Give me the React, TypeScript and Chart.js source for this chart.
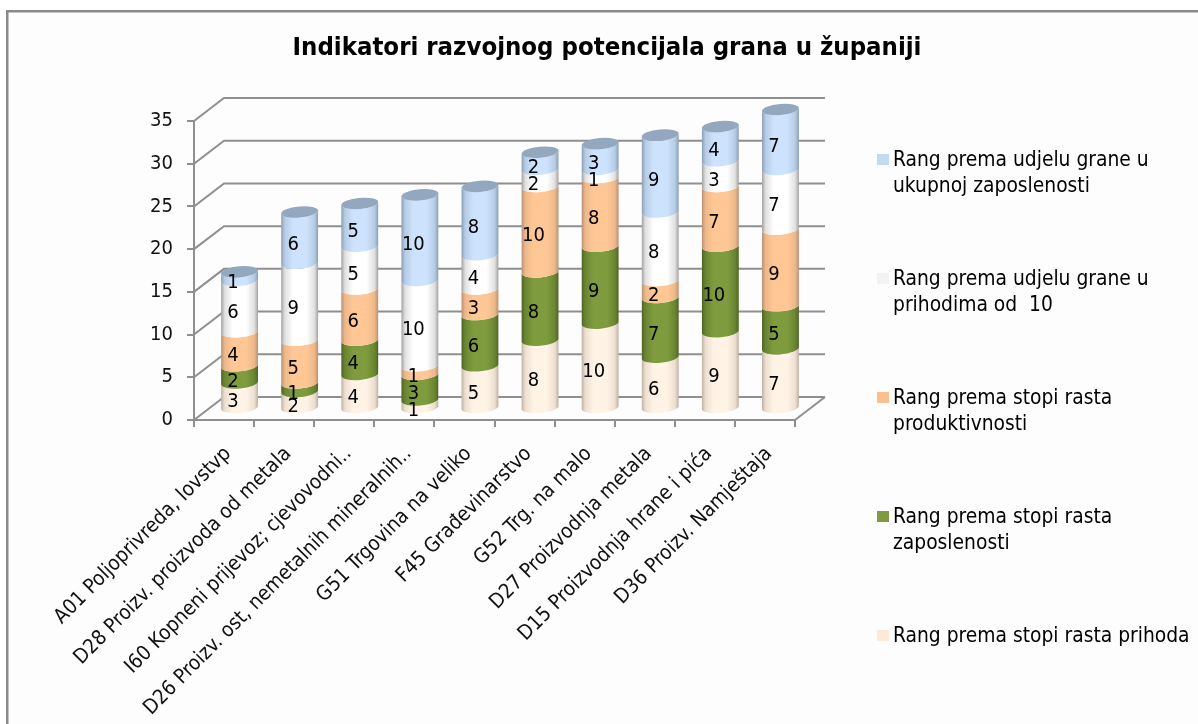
import React, { useEffect, useRef } from "react";
import { Chart, registerables } from "chart.js";

Chart.register(...registerables);

const categories = [
  "A01 Poljoprivreda, lovstvp",
  "D28 Proizv. proizvoda od metala",
  "I60 Kopneni prijevoz; cjevovodni..",
  "D26 Proizv. ost, nemetalnih mineralnih..",
  "G51 Trgovina na veliko",
  "F45 Građevinarstvo",
  "G52 Trg. na malo",
  "D27 Proizvodnja metala",
  "D15 Proizvodnja hrane i pića",
  "D36 Proizv. Namještaja",
];
const rastPrihoda = [3, 2, 4, 1, 5, 8, 10, 6, 9, 7];
const rastZaposlenosti = [2, 1, 4, 3, 6, 8, 9, 7, 10, 5];
const rastProduktivnosti = [4, 5, 6, 1, 3, 10, 8, 2, 7, 9];
const udjelPrihodi = [6, 9, 5, 10, 4, 2, 1, 8, 3, 7];
const udjelZaposlenost = [1, 6, 5, 10, 8, 2, 3, 9, 4, 7];

const titleText = "Indikatori razvojnog potencijala grana u županiji";
const FONT = "'DejaVu Sans Condensed','DejaVu Sans',sans-serif";
const GRID = "#8f8f8f";
const DX = 15.5;
const DY = -11.5;
const BACK_X = 30;
const BACK_Y = -23;

const styles = [
  { name: ["Rang prema stopi rasta prihoda"], swatch: "#FDE9D9", edge: "#BDB0A3", soft: "#EDDFD0", mid: "#FFF3E6", cap: "#D8CBBE" },
  { name: ["Rang prema stopi rasta", "zaposlenosti"], swatch: "#7F9A3F", edge: "#506327", soft: "#6A8532", mid: "#7E9C3D", cap: "#5F7530" },
  { name: ["Rang prema stopi rasta", "produktivnosti"], swatch: "#FCC08F", edge: "#B88F74", soft: "#EDB88A", mid: "#FFC795", cap: "#D9A67C" },
  { name: ["Rang prema udjelu grane u", "prihodima od  10"], swatch: "#F2F2F2", edge: "#A0A0A0", soft: "#E0E0E0", mid: "#FFFFFF", cap: "#C8C8C8" },
  { name: ["Rang prema udjelu grane u", "ukupnoj zaposlenosti"], swatch: "#C6D9F1", edge: "#8A9DB4", soft: "#B6CBE4", mid: "#CDE2FC", cap: "#93A7BF" },
];
const seriesValues = [rastPrihoda, rastZaposlenosti, rastProduktivnosti, udjelPrihodi, udjelZaposlenost];

const RX = 18.5;
const RY = 5.6;
const TILT = -0.09;

const scenePlugin = {
  id: "scene",
  beforeDraw(chart: any) {
    const { ctx } = chart;
    ctx.save();
    ctx.fillStyle = "#ffffff";
    ctx.fillRect(0, 0, 1198, 724);
    ctx.fillStyle = "#FDFDFD";
    ctx.fillRect(7, 11, 1191, 713);
    ctx.fillStyle = "#8a8a8a";
    ctx.fillRect(6, 10, 1192, 2.5);
    ctx.fillRect(6, 10, 2.5, 714);
    ctx.restore();
  },
  afterLayout(chart: any) {
    if (chart.titleBlock) {
      chart.titleBlock.left = 16;
      chart.titleBlock.right = 1198;
    }
  },
  beforeDatasetsDraw(chart: any) {
    const { ctx, chartArea: a, scales } = chart;
    ctx.save();
    ctx.strokeStyle = GRID;
    ctx.lineWidth = 2;
    for (const t of scales.y.ticks) {
      const y = scales.y.getPixelForValue(t.value);
      ctx.beginPath();
      ctx.moveTo(a.left, y);
      ctx.lineTo(a.left + BACK_X, y + BACK_Y);
      ctx.lineTo(a.right + BACK_X, y + BACK_Y);
      ctx.stroke();
    }
    ctx.beginPath();
    ctx.moveTo(a.right, a.bottom);
    ctx.lineTo(a.right + BACK_X, a.bottom + BACK_Y);
    ctx.stroke();
    ctx.restore();
  },
  afterDatasetsDraw(chart: any) {
    const { ctx } = chart;
    const last = chart.data.datasets.length - 1;
    ctx.save();
    chart.data.datasets.forEach((ds: any, i: number) => {
      const st = styles[i];
      chart.getDatasetMeta(i).data.forEach((el: any) => {
        const cx = el.x + DX;
        const yt = el.y + DY;
        const yb = el.base + DY;
        const g = ctx.createLinearGradient(cx - RX, 0, cx + RX, 0);
        g.addColorStop(0, st.edge);
        g.addColorStop(0.1, st.soft);
        g.addColorStop(0.32, st.mid);
        g.addColorStop(0.68, st.mid);
        g.addColorStop(0.9, st.soft);
        g.addColorStop(1, st.edge);
        ctx.beginPath();
        ctx.ellipse(cx, yb, RX, RY, TILT, 0, Math.PI);
        ctx.ellipse(cx, yt, RX, RY, TILT, Math.PI, 0, true);
        ctx.closePath();
        ctx.fillStyle = g;
        ctx.fill();
      });
    });
    chart.getDatasetMeta(last).data.forEach((el: any) => {
      ctx.beginPath();
      ctx.ellipse(el.x + DX, el.y + DY, RX, RY, TILT, 0, Math.PI * 2);
      ctx.fillStyle = styles[last].cap;
      ctx.fill();
    });
    ctx.fillStyle = "#000";
    ctx.font = `20px ${FONT}`;
    ctx.textAlign = "center";
    ctx.textBaseline = "middle";
    chart.data.datasets.forEach((ds: any, i: number) => {
      chart.getDatasetMeta(i).data.forEach((el: any, j: number) => {
        ctx.fillText(String(ds.data[j]), el.x + DX - 6.5, (el.y + el.base) / 2 + DY + 7);
      });
    });
    ctx.restore();
  },
  afterDraw(chart: any) {
    const { ctx } = chart;
    ctx.save();
    ctx.font = `20.8px ${FONT}`;
    ctx.textAlign = "left";
    ctx.textBaseline = "middle";
    [...styles].reverse().forEach((st, k) => {
      const top = 154 + k * 119;
      ctx.fillStyle = st.swatch;
      ctx.fillRect(877, top, 12, 11);
      ctx.fillStyle = "#000";
      st.name.forEach((line, n) => ctx.fillText(line, 893, top + 7 + n * 25.5));
    });
    ctx.restore();
  },
};

export default function App() {
  const ref = useRef<HTMLCanvasElement>(null);
  useEffect(() => {
    const chart = new Chart(ref.current!, {
      type: "bar",
      plugins: [scenePlugin],
      data: {
        labels: categories,
        datasets: seriesValues.map((data, i) => ({
          label: styles[i].name.join(" "),
          data,
          backgroundColor: "rgba(0,0,0,0)",
          barPercentage: 0.616,
          categoryPercentage: 1,
        })),
      },
      options: {
        animation: false,
        responsive: false,
        layout: { padding: { left: 0, right: 403, top: 0, bottom: 0 } },
        plugins: {
          legend: { display: false },
          tooltip: { enabled: false },
          title: {
            display: true,
            text: titleText,
            color: "#000",
            font: { family: FONT, size: 25.5, weight: "bold" },
            padding: { top: 32.7, bottom: 57.7 },
          },
        },
        scales: {
          x: {
            stacked: true,
            afterFit: (s: any) => { s.height = 304; },
            grid: { drawOnChartArea: false, color: GRID, lineWidth: 2, tickLength: 7 },
            border: { color: GRID, width: 2 },
            ticks: {
              autoSkip: false,
              minRotation: 45,
              maxRotation: 45,
              color: "#111",
              labelOffset: 4,
              padding: 15,
              font: { family: FONT, size: 20.5 },
            },
          },
          y: {
            stacked: true,
            min: 0,
            max: 35,
            afterFit: (s: any) => { s.width = 194; },
            grid: { drawOnChartArea: false, color: GRID, lineWidth: 2, tickLength: 7 },
            border: { color: GRID, width: 2 },
            ticks: { stepSize: 5, color: "#111", padding: 14, font: { family: FONT, size: 20 } },
          },
        },
      },
    } as any);
    return () => chart.destroy();
  }, []);
  return (
    <div style={{ position: "absolute", left: 0, top: 0 }}>
      <canvas ref={ref} width={1198} height={724} style={{ display: "block" }} />
    </div>
  );
}
